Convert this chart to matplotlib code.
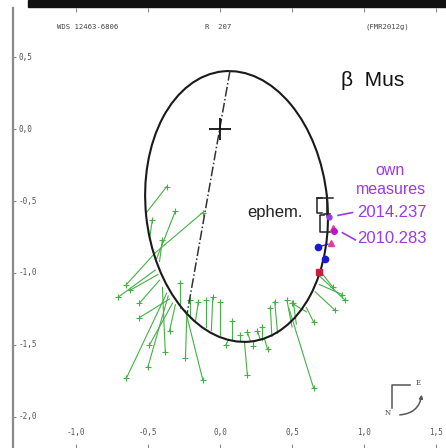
import matplotlib
matplotlib.use('Agg')
import matplotlib.pyplot as plt
from matplotlib.patches import Ellipse, Rectangle, FancyArrowPatch

plt.rcParams['font.family'] = ['Liberation Sans', 'DejaVu Sans']

# apparent orbit: centre, full axes and tilt (deg)
orbit_center = (0.115, -0.538)
orbit_width = 1.262
orbit_height = 1.886
orbit_angle = 5.8

# line of apsides
apsides_x = [0.069, -0.229]
apsides_y = [0.403, -1.285]

# catalogue measures: position on the orbit -> measured position
pred_x = [-0.51, -0.44, -0.45, -0.45, -0.49, -0.42, -0.37, -0.36, -0.35, -0.42,
          -0.40, -0.45, -0.43, -0.23, -0.24, -0.28, -0.17, -0.06, -0.10, -0.21,
          -0.31, -0.33, 0.00, 0.08, 0.17, 0.23, 0.14, 0.28, 0.29, 0.36,
          0.40, 0.50, 0.53, 0.48, 0.60, 0.60, 0.69, 0.69, 0.68, 0.66,
          0.21, 0.31, 0.06]
pred_y = [-0.58, -0.90, -0.86, -0.86, -0.77, -0.92, -1.14, -1.16, -1.18, -1.05,
          -1.10, -0.98, -1.01, -1.28, -1.26, -1.24, -1.33, -1.40, -1.375, -1.31,
          -1.22, -1.21, -1.43, -1.465, -1.48, -1.48, -1.47, -1.465, -1.465, -1.44,
          -1.42, -1.375, -1.355, -1.25, -1.27, -1.24, -1.08, -0.98, -1.01, -1.13,
          -1.47, -1.46, -1.46]
obs_x = [-0.37, -0.31, -0.12, -0.65, -0.47, -0.40, -0.65, -0.50, -0.56, -0.56,
         -0.38, -0.71, -0.625, -0.24, -0.12, -0.28, -0.15, -0.05, -0.10, -0.21,
         -0.35, -0.49, 0.00, 0.08, 0.19, 0.23, 0.14, 0.26, 0.29, 0.35,
         0.38, 0.465, 0.51, 0.65, 0.50, 0.65, 0.85, 0.785, 0.87, 0.80,
         0.19, 0.33, 0.04]
obs_y = [-0.40, -0.57, -0.58, -1.08, -0.63, -0.77, -1.73, -1.65, -1.31, -1.21,
         -1.55, -1.17, -1.12, -1.59, -1.74, -1.07, -1.20, -1.17, -1.19, -1.19,
         -1.40, -1.50, -1.20, -1.33, -1.71, -1.51, -1.43, -1.40, -1.375, -1.24,
         -1.20, -1.19, -1.21, -1.80, -1.21, -1.34, -1.15, -1.10, -1.19, -1.26,
         -1.41, -1.53, -1.50]

# recent measures near the ephemeris
blue_x = [0.68, 0.73]
blue_y = [-0.82, -0.90]
blue_link_x = [0.68, 0.75]
blue_link_y = [-0.82, -0.80]
red_x = [0.69]
red_y = [-0.99]
pink_x = [0.785, 0.77]
pink_y = [-0.69, -0.79]
own_x = [0.76, 0.79]
own_y = [-0.61, -0.71]
own_epochs = ['2014.237', '2010.283']

# ephemeris brackets
ephem_paths = [
    ([0.708, 0.674, 0.674, 0.708], [-0.479, -0.479, -0.583, -0.583]),
    ([0.674, 0.785], [-0.479, -0.479]),
    ([0.743, 0.743], [-0.458, -0.604]),
    ([0.722, 0.764], [-0.590, -0.590]),
    ([0.722, 0.694, 0.694, 0.764], [-0.597, -0.597, -0.715, -0.715]),
]

xticks = [-1.0, -0.5, 0.0, 0.5, 1.0, 1.5]
yticks = [0.5, 0.0, -0.5, -1.0, -1.5, -2.0]

green = '#45b045'
purple = '#9a3be6'
axis_grey = '#8a8a8a'
label_grey = '#555555'

fig = plt.figure(figsize=(4.46, 4.48), dpi=100)
ax = fig.add_axes([13 / 446, 0, 433 / 446, 440 / 448])
ax.set_xlim(-1.4375, 1.5694)
ax.set_ylim(-2.2153, 0.8403)

for s in ['top', 'right', 'bottom']:
    ax.spines[s].set_visible(False)
ax.spines['left'].set_color(axis_grey)
ax.spines['left'].set_linewidth(1.6)

ax.set_xticks(xticks)
ax.set_yticks(yticks)
ax.tick_params(axis='x', top=True, bottom=True, direction='in', length=3,
               color=axis_grey, labelbottom=False)
ax.tick_params(axis='y', left=True, direction='in', length=2.5,
               color=axis_grey, labelleft=False)

for t in xticks:
    ax.text(t, -2.111, f'{t:.1f}'.replace('.', ','), ha='center', va='center',
            fontsize=5.5, color=label_grey, family='DejaVu Sans Mono')
for t in yticks:
    ax.text(-1.40, t, f'{t:.1f}'.replace('.', ','), ha='left', va='center',
            fontsize=5.5, color=label_grey, family='DejaVu Sans Mono')

# header line
ax.text(-1.13, 0.708, 'WDS 12463-6806', fontsize=5.2, color='#444444',
        va='center', family='DejaVu Sans Mono')
ax.text(-0.104, 0.708, 'R  207', fontsize=5.2, color='#444444',
        va='center', family='DejaVu Sans Mono')
ax.text(1.007, 0.708, '(FMR2012g)', fontsize=5.2, color='#444444',
        va='center', family='DejaVu Sans Mono')

# orbit, primary and line of apsides
ax.add_patch(Ellipse(orbit_center, orbit_width, orbit_height, angle=orbit_angle,
                     fill=False, ec='#1a1a1a', lw=1.5, zorder=3))
ax.plot(apsides_x, apsides_y, color='#333333', lw=1.1, ls='-.', zorder=3)
ax.plot([0], [0], marker='+', ms=16, mew=1.3, color='#111111', zorder=4)

# residuals
for x0, y0, x1, y1 in zip(pred_x, pred_y, obs_x, obs_y):
    ax.plot([x0, x1], [y0, y1], color=green, lw=0.8, zorder=2)
ax.plot(obs_x, obs_y, '+', color=green, ms=4, mew=0.8, zorder=2)

ax.plot(blue_link_x, blue_link_y, color='#1a1ad0', lw=0.9, zorder=4)
ax.plot(blue_x, blue_y, 'o', color='#1a1ad0', ms=4.5, zorder=5)
ax.plot(red_x, red_y, 's', color='#c8203c', ms=5, zorder=5)
ax.plot(pink_x, pink_y, '^', color='#e0409a', ms=4, zorder=5)
ax.plot(own_x[0], own_y[0], 'o', color=purple, ms=3.5, zorder=5)
ax.plot(own_x[1], own_y[1], 'o', color='#b818c8', ms=4, zorder=5)

for px, py in ephem_paths:
    ax.plot(px, py, color='#222222', lw=1.1, zorder=4)

# labels
ax.text(0.38, -0.58, 'ephem.', ha='center', va='center', fontsize=12,
        color='#222222')
ax.text(1.06, 0.34, 'β  Mus', ha='center', va='center', fontsize=15,
        color='#111111')
ax.text(1.18, -0.29, 'own', ha='center', va='center', fontsize=11.5,
        color=purple)
ax.text(1.19, -0.42, 'measures', ha='center', va='center', fontsize=11.5,
        color=purple)
ax.plot([0.82, 0.92], [-0.60, -0.58], color=purple, lw=1.2)
ax.plot([0.85, 0.94], [-0.72, -0.77], color=purple, lw=1.2)
ax.text(0.95, -0.58, own_epochs[0], ha='left', va='center', fontsize=12,
        color=purple)
ax.text(0.95, -0.76, own_epochs[1], ha='left', va='center', fontsize=12,
        color=purple)

# orientation mark
ax.plot([1.319, 1.194, 1.194], [-1.778, -1.778, -1.9375], color='#555555', lw=1.1)
ax.text(1.375, -1.764, 'E', fontsize=5, ha='center', va='center', color='#444444',
        family='DejaVu Serif')
ax.text(1.167, -1.972, 'N', fontsize=5, ha='center', va='center', color='#444444',
        family='DejaVu Serif')
ax.add_patch(FancyArrowPatch((1.229, -1.986), (1.403, -1.826),
                             connectionstyle='arc3,rad=0.45', arrowstyle='-|>',
                             mutation_scale=5, color='#555555', lw=1.1))

# black strip along the top edge
fig.patches.append(Rectangle((28 / 446, 1 - 7 / 448), 1, 7 / 448,
                             transform=fig.transFigure, color='#111111'))

fig.savefig('out.png', dpi=100)
